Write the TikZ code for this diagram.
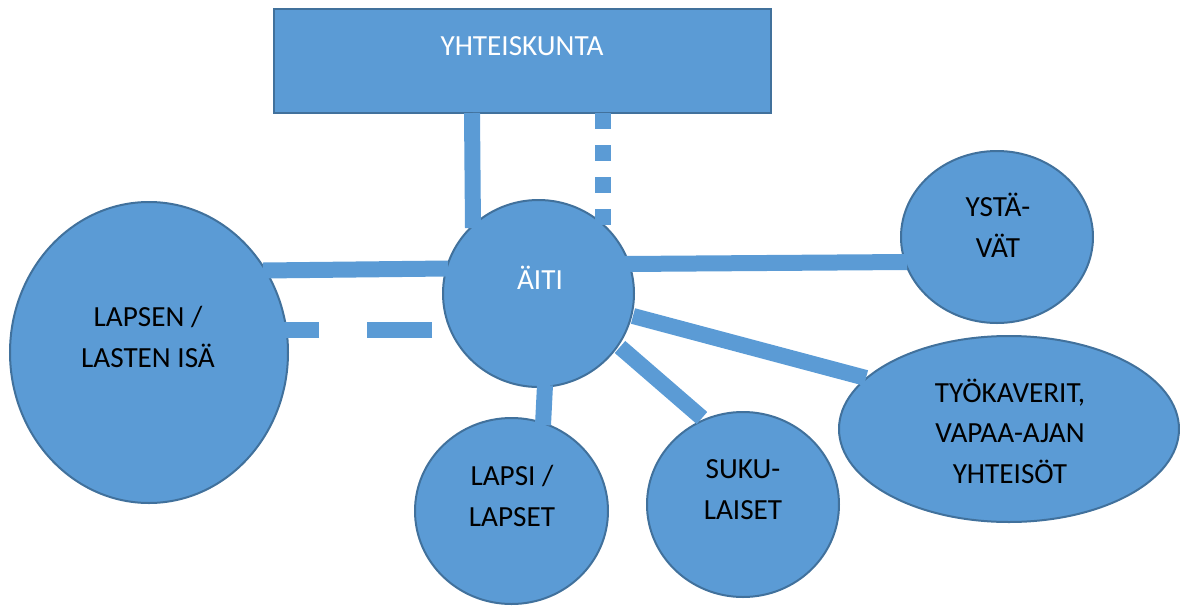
\documentclass[tikz,border=0pt]{standalone}
\usepackage{fontspec}
\setmainfont{Carlito}
\usetikzlibrary{shapes.geometric}
\definecolor{bfill}{HTML}{5B9BD5}
\definecolor{bline}{HTML}{41719C}
\tikzset{
  blob/.style={ellipse, draw=bline, fill=bfill, line width=1pt, inner sep=0pt},
  boxshape/.style={rectangle, draw=bline, fill=bfill, line width=1.2pt, inner sep=0pt},
  lbl/.style={font=\fontsize{14.6}{20.2}\selectfont, align=center, anchor=base, inner sep=0pt},
  conn/.style={draw=bfill, line width=8pt},
}
\begin{document}
\begin{tikzpicture}[x=0.5pt, y=-0.5pt]
\useasboundingbox (0,0) rectangle (1180,606);
% shapes
\node[boxshape, minimum width=248.5pt, minimum height=52pt] (yht) at (522.5,61) {};
\node[blob, minimum width=95.5pt, minimum height=93.5pt] (aiti) at (538.5,293.5) {};
\node[blob, minimum width=139pt, minimum height=150.5pt] (isa) at (149,352.5) {};
\node[blob, minimum width=96.5pt, minimum height=93pt] (lapsi) at (511.5,511) {};
\node[blob, minimum width=96pt, minimum height=92.5pt] (suku) at (743,504.5) {};
\node[blob, minimum width=96pt, minimum height=86pt] (ysta) at (997,237) {};
\node[blob, minimum width=170pt, minimum height=93pt] (tyo) at (1009,429) {};
% texts (base anchor = baseline of last line)
\node[lbl, text=white] (yhtT) at (522,55) {YHTEISKUNTA};
\node[lbl, text=white] (aitiT) at (540,289) {ÄITI};
\node[lbl] (isaT) at (148,367) {LAPSEN /\\LASTEN ISÄ};
\node[lbl] (lapsiT) at (512,526) {LAPSI /\\LAPSET};
\node[lbl] (sukuT) at (743,519) {SUKU-\\LAISET};
\node[lbl] (ystaT) at (998,257) {YSTÄ-\\VÄT};
\node[lbl] (tyoT) at (1010,483) {TYÖKAVERIT,\\VAPAA-AJAN\\YHTEISÖT};
% connector end points
\coordinate (yA) at (472,113);
\coordinate (aA) at (473,228);
\coordinate (yB) at (603,113);
\coordinate (aB) at (603,225);
\coordinate (iA) at (263,270.5);
\coordinate (aC) at (448,268.5);
\coordinate (aD) at (432,329.5);
\coordinate (iB) at (283,329.5);
\coordinate (aE) at (625,264);
\coordinate (sA) at (907,262);
\coordinate (aF) at (633,316);
\coordinate (tA) at (866,378);
\coordinate (aG) at (620,347);
\coordinate (kA) at (702,418);
\coordinate (aH) at (545,385);
\coordinate (lA) at (543,425);
% connectors
\draw[conn] (yA) -- (aA);
\draw[conn, dash pattern=on 8pt off 8pt] (yB) -- (aB);
\draw[conn] (iA) -- (aC);
\draw[conn, dash pattern=on 32.5pt off 24pt on 18pt off 100pt] (aD) -- (iB);
\draw[conn] (aE) -- (sA);
\draw[conn] (aF) -- (tA);
\draw[conn] (aG) -- (kA);
\draw[conn] (aH) -- (lA);
\end{tikzpicture}
\end{document}
